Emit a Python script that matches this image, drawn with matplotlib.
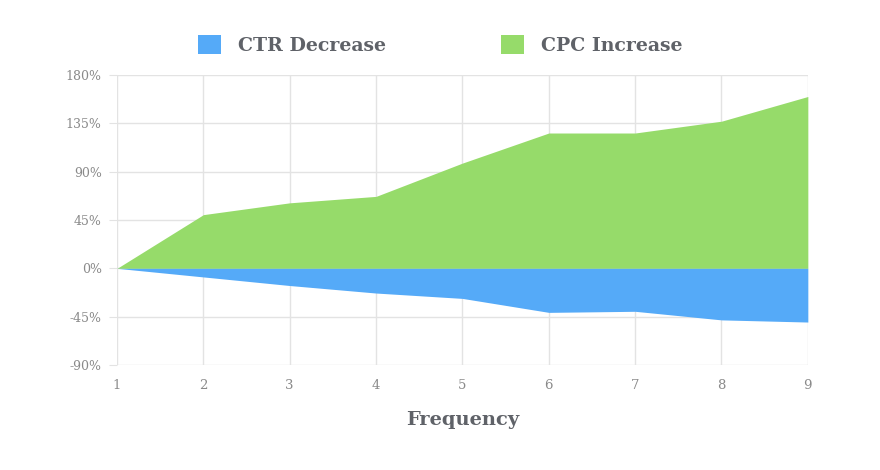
import matplotlib
matplotlib.use("Agg")
import matplotlib.pyplot as plt
from matplotlib.patches import Patch
from matplotlib.ticker import FuncFormatter

frequency = [1, 2, 3, 4, 5, 6, 7, 8, 9]
ctr_decrease = [0, -8, -16, -23, -28, -41, -40, -48, -50]
cpc_increase = [0, 50, 61, 67, 98, 126, 126, 137, 160]
y_ticks = [-90, -45, 0, 45, 90, 135, 180]

blue = "#55AAF8"
green = "#96DB6A"
grid_c = "#E3E3E3"
tick_c = "#8A8A8A"
label_c = "#5F6268"

fig = plt.figure(figsize=(8.8, 4.7), dpi=100)
ax = fig.add_axes([0.133, 0.2234, 0.785, 0.6170])

ax.fill_between(frequency, 0, cpc_increase, color=green, linewidth=0)
ax.fill_between(frequency, 0, ctr_decrease, color=blue, linewidth=0)

ax.set_xlim(1, 9)
ax.set_ylim(-90, 180)
ax.set_xticks(frequency)
ax.set_yticks(y_ticks)
ax.yaxis.set_major_formatter(FuncFormatter(lambda v, p: f"{int(v)}%"))
ax.grid(True, color=grid_c, linewidth=1)
ax.set_axisbelow(True)
for s in ax.spines.values():
    s.set_visible(False)
ax.tick_params(axis="y", length=6, color=grid_c, labelsize=9, labelcolor=tick_c, pad=5)
ax.tick_params(axis="x", length=0, labelsize=9.5, labelcolor=tick_c, pad=10)
for t in ax.get_xticklabels() + ax.get_yticklabels():
    t.set_family("DejaVu Serif")

ax.set_xlabel("Frequency", fontsize=14, fontweight="bold", color=label_c,
              family="DejaVu Serif", labelpad=14)

handles = [Patch(facecolor=blue, edgecolor="none", label="CTR Decrease"),
           Patch(facecolor=green, edgecolor="none", label="CPC Increase")]
leg = fig.legend(handles=handles, loc="center", bbox_to_anchor=(0.5, 0.905), ncol=2,
                 frameon=False, handlelength=1.2, handleheight=1.2, handletextpad=0.9,
                 columnspacing=6.1,
                 prop={"family": "DejaVu Serif", "weight": "bold", "size": 13.6})
for t in leg.get_texts():
    t.set_color(label_c)

fig.savefig("out.png", dpi=100, facecolor="white")
